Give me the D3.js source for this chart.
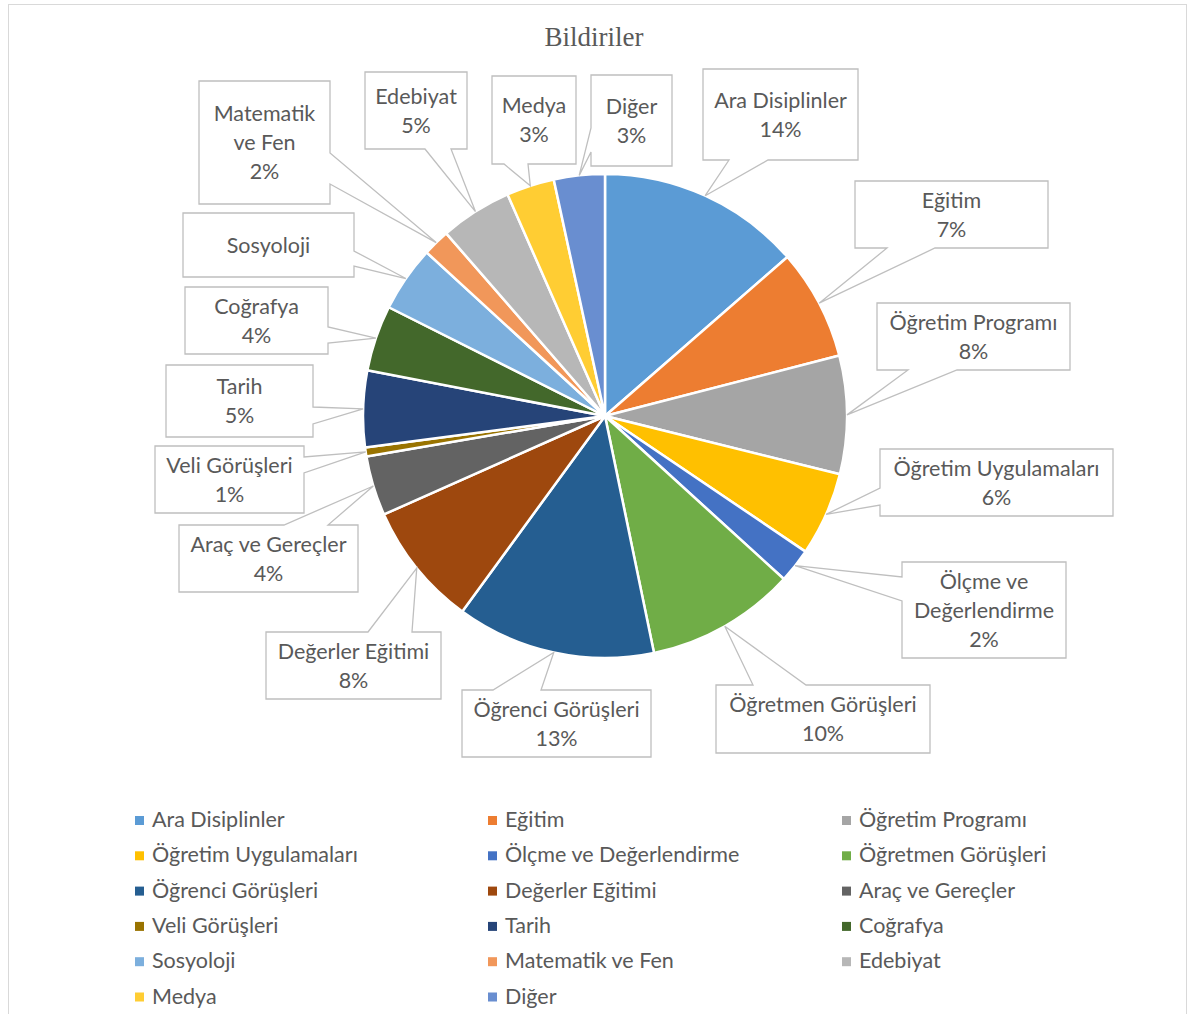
<!DOCTYPE html>
<html><head><meta charset="utf-8">
<script src="https://cdn.jsdelivr.net/npm/d3@7"></script>
<style>body{margin:0;background:#fff} svg{display:block}</style>
</head><body><svg id="c" width="1194" height="1014"></svg>
<script>
const title = "Bildiriler";
const categories = ["Ara Disiplinler","Eğitim","Öğretim Programı","Öğretim Uygulamaları","Ölçme ve Değerlendirme","Öğretmen Görüşleri","Öğrenci Görüşleri","Değerler Eğitimi","Araç ve Gereçler","Veli Görüşleri","Tarih","Coğrafya","Sosyoloji","Matematik ve Fen","Edebiyat","Medya","Diğer"];
const values = [13.6, 7.4, 7.9, 5.6, 2.3, 10.0, 13.3, 8.3, 4.0, 0.6, 5.1, 4.4, 4.4, 1.8, 4.8, 3.2, 3.4];
const colors = ["#5B9BD5","#ED7D31","#A5A5A5","#FFC000","#4472C4","#70AD47","#255E91","#9E480E","#636363","#997300","#264478","#43682B","#7CAFDD","#F1975A","#B7B7B7","#FFCD33","#698ED0"];
const showPercent = [true,true,true,true,true,true,true,true,true,true,true,true,false,true,true,true,true];
const firstLineWords = [0,0,0,0,2,0,0,0,0,0,0,0,0,1,0,0,0];
// callout box layout: x, y, w, h, side of pointer, pointer base along side
const labelLayout = [
  {x:703,y:69,w:155,h:91,side:"bottom",b:[729,768]},
  {x:855,y:181,w:193,h:67,side:"bottom",b:[887,935]},
  {x:877,y:303,w:193,h:67,side:"bottom",b:[908,957]},
  {x:880,y:449,w:233,h:67,side:"left",b:[488,505]},
  {x:902,y:562,w:164,h:96,side:"left",b:[577,601]},
  {x:716,y:685,w:214,h:68,side:"top",b:[753,806]},
  {x:462,y:690,w:189,h:67,side:"top",b:[493,541]},
  {x:266,y:632,w:175,h:67,side:"top",b:[368,412]},
  {x:179,y:525,w:179,h:67,side:"top",b:[284,328]},
  {x:155,y:446,w:149,h:67,side:"right",b:[457,473]},
  {x:166,y:365,w:147,h:72,side:"right",b:[407,424]},
  {x:185,y:287,w:143,h:67,side:"right",b:[327,343]},
  {x:183,y:213,w:171,h:64,side:"right",b:[251,266]},
  {x:199,y:81,w:131,h:123,side:"right",b:[153,184]},
  {x:365,y:72,w:102,h:77,side:"bottom",b:[425,451]},
  {x:492,y:76,w:84,h:88,side:"bottom",b:[504,528]},
  {x:591,y:75,w:81,h:91,side:"left",b:[128,152]}
];

const cx = 605, cy = 416, R = 242;
const textColor = "#595959";
const font = "Lato, 'Open Sans', sans-serif";

const svg = d3.select("#c");
svg.append("rect").attr("x",8.5).attr("y",4.5).attr("width",1178).attr("height",1030)
  .attr("fill","#fff").attr("stroke","#D9D9D9").attr("stroke-width",1);

svg.append("text").attr("x",594).attr("y",46).attr("text-anchor","middle")
  .attr("font-family","'Liberation Serif', 'Times New Roman', serif").attr("font-size",27)
  .attr("fill",textColor).text(title);

const total = d3.sum(values);
const pie = d3.pie().sort(null).value(d => d).startAngle(0).endAngle(2*Math.PI);
const arcs = pie(values);
const arc = d3.arc().innerRadius(0).outerRadius(R);
const edgeArc = d3.arc().innerRadius(R).outerRadius(R);

const g = svg.append("g").attr("transform", `translate(${cx},${cy})`);
g.selectAll("path.slice").data(arcs).join("path").attr("class","slice")
  .attr("d", arc).attr("fill", (d,i) => colors[i])
  .attr("stroke","#fff").attr("stroke-width",2.5).attr("stroke-linejoin","round");

function calloutPath(L, tip) {
  const {x,y,w,h,side,b} = L;
  const [tx,ty] = tip;
  if (side === "bottom") return `M${x},${y}H${x+w}V${y+h}H${b[1]}L${tx},${ty}L${b[0]},${y+h}H${x}Z`;
  if (side === "left") return `M${x},${y}H${x+w}V${y+h}H${x}V${b[1]}L${tx},${ty}L${x},${b[0]}Z`;
  if (side === "top") return `M${x},${y}H${b[0]}L${tx},${ty}L${b[1]},${y}H${x+w}V${y+h}H${x}Z`;
  return `M${x},${y}H${x+w}V${b[0]}L${tx},${ty}L${x+w},${b[1]}V${y+h}H${x}Z`;
}

const lg = svg.append("g");
arcs.forEach((d,i) => {
  const L = labelLayout[i];
  const c = edgeArc.centroid(d);
  const tip = [cx + c[0], cy + c[1]];
  lg.append("path").attr("d", calloutPath(L, tip))
    .attr("fill","#fff").attr("stroke","#BFBFBF").attr("stroke-width",1.3);
  const words = categories[i].split(" ");
  let lines = firstLineWords[i] > 0
    ? [words.slice(0, firstLineWords[i]).join(" "), words.slice(firstLineWords[i]).join(" ")]
    : [categories[i]];
  if (showPercent[i]) lines.push(Math.round(values[i] / total * 100) + "%");
  const lh = 29, n = lines.length;
  const mx = L.x + L.w/2, my = L.y + L.h/2;
  const t = lg.append("text").attr("text-anchor","middle").attr("font-family",font)
    .attr("font-size",21.5).attr("fill",textColor);
  lines.forEach((s,k) => {
    t.append("tspan").attr("x", mx).attr("y", my + (k - (n-1)/2)*lh + 7.5).text(s);
  });
});

// legend
const legX = [135, 488, 842];
const legY0 = 827, legDY = 35.3;
const leg = svg.append("g");
categories.forEach((name,i) => {
  const col = i % 3, row = Math.floor(i / 3);
  const x = legX[col], y = legY0 + row*legDY;
  leg.append("rect").attr("x", x).attr("y", y - 11).attr("width", 9).attr("height", 9).attr("fill", colors[i]);
  leg.append("text").attr("x", x + 17).attr("y", y).attr("font-family",font)
    .attr("font-size",21.5).attr("fill",textColor).text(name);
});
</script>
</body></html>
